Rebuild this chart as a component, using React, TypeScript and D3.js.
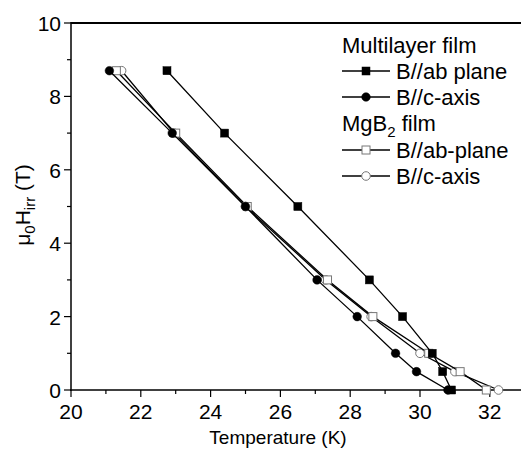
import React from 'react';
import * as d3 from 'd3';

// irreversibility field vs temperature
const mlAb: [number, number][] = [[22.75, 8.7], [24.4, 7.0], [26.5, 5.0], [28.55, 3.0], [29.5, 2.0], [30.35, 1.0], [30.65, 0.5], [30.9, 0]];
const mlC: [number, number][] = [[21.1, 8.7], [22.9, 7.0], [25.0, 5.0], [27.05, 3.0], [28.2, 2.0], [29.3, 1.0], [29.9, 0.5], [30.8, 0]];
const mgAb: [number, number][] = [[21.3, 8.7], [23.0, 7.0], [25.05, 5.0], [27.35, 3.0], [28.65, 2.0], [30.25, 1.0], [31.15, 0.5], [31.9, 0]];
const mgC: [number, number][] = [[21.45, 8.7], [22.95, 7.0], [25.0, 5.0], [27.3, 3.0], [28.6, 2.0], [30.0, 1.0], [31.0, 0.5], [32.25, 0]];

const xTicks = [20, 22, 24, 26, 28, 30, 32];
const yTicks = [0, 2, 4, 6, 8, 10];

const W = 521;
const H = 449;
const FONT = '"Liberation Sans", Arial, sans-serif';

type Sym = 'sq' | 'circ';
const series = [
  { data: mgC, sym: 'circ' as Sym, filled: false },
  { data: mgAb, sym: 'sq' as Sym, filled: false },
  { data: mlC, sym: 'circ' as Sym, filled: true },
  { data: mlAb, sym: 'sq' as Sym, filled: true },
];

const Marker = ({ x, y, sym, filled }: { x: number; y: number; sym: Sym; filled: boolean }) => {
  const fill = filled ? '#000' : '#fff';
  const stroke = filled ? '#000' : '#777';
  if (sym === 'sq') {
    return <rect x={x - 4} y={y - 4} width={8} height={8} fill={fill} stroke={stroke} strokeWidth={filled ? 0.5 : 1} />;
  }
  return <circle cx={x} cy={y} r={4.3} fill={fill} stroke={stroke} strokeWidth={filled ? 0.5 : 1} />;
};

export default function App() {
  const x = d3.scaleLinear().domain([20, 33]).range([71, 71 + 13 * 34.9]);
  const y = d3.scaleLinear().domain([0, 10]).range([390, 23]);
  const line = d3.line<[number, number]>().x(d => x(d[0])).y(d => y(d[1]));

  const xMinor = d3.range(20, 34, 1);
  const yMinor = d3.range(0, 11, 1);

  const legend = [
    { kind: 'title', label: 'Multilayer film', yy: 45 },
    { kind: 'item', label: 'B//ab plane', yy: 71, sym: 'sq' as Sym, filled: true },
    { kind: 'item', label: 'B//c-axis', yy: 97, sym: 'circ' as Sym, filled: true },
    { kind: 'title2', label: 'MgB', yy: 123 },
    { kind: 'item', label: 'B//ab-plane', yy: 150, sym: 'sq' as Sym, filled: false },
    { kind: 'item', label: 'B//c-axis', yy: 176, sym: 'circ' as Sym, filled: false },
  ];

  return (
    <svg width={W} height={H} style={{ display: 'block', position: 'absolute', left: 0, top: 0, background: '#fff' }}
      fontFamily={FONT}>
      <rect width={W} height={H} fill="#fff" />
      {/* frame */}
      <line x1={71} x2={W} y1={23} y2={23} stroke="#000" strokeWidth={2} />
      <line x1={71} x2={71} y1={22} y2={391} stroke="#000" strokeWidth={1.5} />
      <line x1={70} x2={W} y1={390} y2={390} stroke="#000" strokeWidth={1.5} />

      {/* x ticks */}
      {xMinor.map(t => (
        <line key={'xt' + t} x1={x(t)} x2={x(t)} y1={390} y2={390 + (t % 2 === 0 ? 7 : 4)} stroke="#000" strokeWidth={1.2} />
      ))}
      {xTicks.map(t => (
        <text key={'xl' + t} x={x(t)} y={419} textAnchor="middle" fontSize={21}>{t}</text>
      ))}
      <text x={278} y={444} textAnchor="middle" fontSize={19}>Temperature (K)</text>

      {/* y ticks */}
      {yMinor.map(t => (
        <line key={'yt' + t} x1={71} x2={71 - (t % 2 === 0 ? 7 : 4)} y1={y(t)} y2={y(t)} stroke="#000" strokeWidth={1.2} />
      ))}
      {yTicks.map(t => (
        <text key={'yl' + t} x={61} y={y(t) + 8} textAnchor="end" fontSize={21}>{t}</text>
      ))}
      <text transform="translate(30,205) rotate(-90)" textAnchor="middle" fontSize={21}>
        μ<tspan fontSize={15} dy={5}>0</tspan><tspan dy={-5}>H</tspan><tspan fontSize={15} dy={5}>irr</tspan><tspan dy={-5}> (T)</tspan>
      </text>

      {/* series */}
      {series.map((s, i) => (
        <g key={i}>
          <path d={line(s.data) || ''} fill="none" stroke="#000" strokeWidth={1.3} />
          {s.data.map((d, j) => (
            <Marker key={j} x={x(d[0])} y={y(d[1])} sym={s.sym} filled={s.filled} />
          ))}
        </g>
      ))}

      {/* legend */}
      {legend.map((l, i) => {
        if (l.kind === 'title') {
          return <text key={i} x={342} y={l.yy + 8} fontSize={22}>{l.label}</text>;
        }
        if (l.kind === 'title2') {
          return (
            <text key={i} x={342} y={l.yy + 8} fontSize={22}>
              MgB<tspan fontSize={15} dy={6}>2</tspan><tspan dy={-6}> film</tspan>
            </text>
          );
        }
        return (
          <g key={i}>
            <line x1={342} x2={390} y1={l.yy} y2={l.yy} stroke="#000" strokeWidth={1.3} />
            <Marker x={366} y={l.yy} sym={l.sym as Sym} filled={!!l.filled} />
            <text x={396} y={l.yy + 8} fontSize={22}>{l.label}</text>
          </g>
        );
      })}
    </svg>
  );
}
